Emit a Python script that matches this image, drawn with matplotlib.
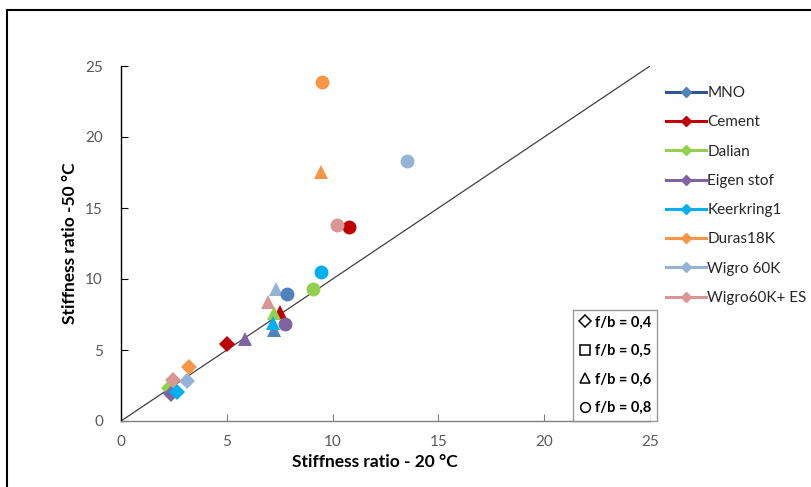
import numpy as np
import matplotlib
matplotlib.use("Agg")
import matplotlib.pyplot as plt
from matplotlib.lines import Line2D

plt.rcParams['font.family'] = ['Lato', 'DejaVu Sans']

names = ["MNO", "Cement", "Dalian", "Eigen stof", "Keerkring1",
         "Duras18K", "Wigro 60K", "Wigro60K+ ES"]
colors = ["#4F81BD", "#C00000", "#92D050", "#8064A2", "#00B0F0",
          "#F79646", "#95B3D7", "#D99694"]
line_colors = ["#2F5597", "#C00000", "#92D050", "#8064A2", "#00B0F0",
               "#F79646", "#95B3D7", "#D99694"]

nan = np.nan
# f/b = 0,4 (diamonds)
x_04 = [nan, 5.0, 2.25, 2.35, 2.65, 3.2, 3.1, 2.45]
y_04 = [nan, 5.4, 2.35, 1.9, 2.05, 3.8, 2.85, 2.9]
# f/b = 0,6 (triangles)
x_06 = [7.25, 7.5, 7.25, 5.86, 7.2, 9.44, 7.31, 6.96]
y_06 = [6.4, 7.65, 7.6, 5.8, 6.9, 17.5, 9.3, 8.4]
# f/b = 0,8 (circles)
x_08 = [7.86, 10.79, 9.09, 7.76, 9.44, 9.5, 13.52, 10.19]
y_08 = [8.94, 13.66, 9.3, 6.85, 10.47, 23.9, 18.3, 13.8]

diag = [0, 25]
ticks = [0, 5, 10, 15, 20, 25]
shape_labels = ["f/b = 0,4", "f/b = 0,5", "f/b = 0,6", "f/b = 0,8"]

W, H = 812, 487
fig = plt.figure(figsize=(W / 100, H / 100), dpi=100)
ax = fig.add_axes([121 / W, 1 - 421 / H, (650 - 121) / W, (421 - 66) / H])

ax.plot(diag, diag, color="#404040", lw=0.9, zorder=1)

ms = 10
for i in range(len(names)):
    ax.plot(x_04[i], y_04[i], 'D', color=colors[i], ms=ms * 0.85, mew=0, zorder=2)
for i in range(len(names)):
    ax.plot(x_06[i], y_06[i], '^', color=colors[i], ms=ms * 1.05, mew=0, zorder=3)
for i in range(len(names)):
    ax.plot(x_08[i], y_08[i], 'o', color=colors[i], ms=ms * 1.0, mew=0, zorder=4)

ax.set_xlim(0, 25)
ax.set_ylim(0, 25)
ax.set_xticks(ticks)
ax.set_yticks(ticks)
for s in ["top", "right"]:
    ax.spines[s].set_visible(False)
ax.spines["bottom"].set_color("#808080")
ax.spines["left"].set_color("#000000")
for s in ["left", "bottom"]:
    ax.spines[s].set_linewidth(1.0)
ax.tick_params(axis="x", direction="in", length=5, width=0.8, colors="#808080",
               labelcolor="#595959", labelsize=11, pad=10)
ax.tick_params(axis="y", direction="in", length=5, width=0.8, colors="#000000",
               labelcolor="#595959", labelsize=11, pad=13)

ax.set_xlabel("Stiffness ratio - 20 °C", fontsize=12.5, fontweight="bold")
ax.set_ylabel("Stiffness ratio -50 °C", fontsize=12.5, fontweight="bold")
ax.xaxis.set_label_coords((375 - 121) / 529, -(462 - 421) / 355)
ax.yaxis.set_label_coords(-(121 - 70) / 529, 0.5)
ax.xaxis.label.set_va("center")
ax.yaxis.label.set_va("center")

# series legend
handles = [Line2D([0], [0], color=line_colors[i], lw=2.2, marker='D', ms=5,
                  mfc=colors[i], mec=colors[i]) for i in range(len(names))]
leg1 = fig.legend(handles, names, loc="upper left",
                  bbox_to_anchor=(660 / W, 1 - 80 / H), frameon=False,
                  fontsize=11, handlelength=2.6, handletextpad=0.1,
                  labelspacing=1.0, borderaxespad=0)
for t in leg1.get_texts():
    t.set_color("#262626")

# shape legend
shapes = ['D', 's', '^', 'o']
h2 = [Line2D([0], [0], ls='none', marker=m, ms=7 if m != 'D' else 6,
             mfc='none', mec='black', mew=1.1) for m in shapes]
leg2 = ax.legend(h2, shape_labels, loc="lower right",
                 bbox_to_anchor=(657 / W, 1 - 421 / H),
                 bbox_transform=fig.transFigure,
                 frameon=True, fancybox=False,
                 prop={'weight': 'bold', 'size': 10.5},
                 handlelength=0.8, handletextpad=0.3, labelspacing=1.0,
                 borderpad=0.4, borderaxespad=0)
leg2.get_frame().set_edgecolor("#808080")
leg2.get_frame().set_linewidth(1.0)
leg2.set_zorder(10)

# outer border (left and top)
fig.add_artist(Line2D([7 / W, 7 / W], [0, 1 - 10 / H], color="black", lw=1.5,
                      transform=fig.transFigure))
fig.add_artist(Line2D([7 / W, 1], [1 - 10 / H, 1 - 10 / H], color="black", lw=1.5,
                      transform=fig.transFigure))

fig.savefig("out.png", dpi=100)
